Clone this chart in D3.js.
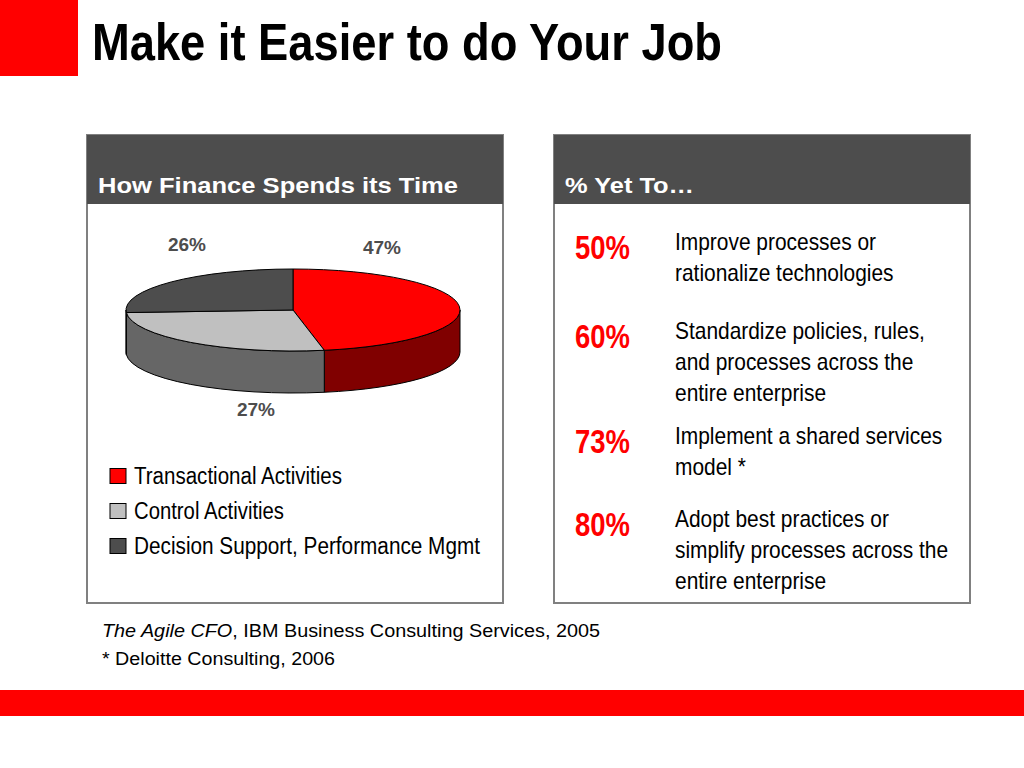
<!DOCTYPE html>
<html>
<head>
<meta charset="utf-8">
<script src="https://cdn.jsdelivr.net/npm/d3@7"></script>
<style>
  body { margin: 0; background: #fff; }
  svg { display: block; }
</style>
</head>
<body>
<svg id="chart" width="1024" height="768"></svg>
<script>
// pie data
var categories = ["Transactional Activities", "Control Activities", "Decision Support, Performance Mgmt"];
var shares = [47, 27, 26];
var sliceColors = ["#ff0000", "#c0c0c0", "#4d4d4d"];
var sideColors = ["#800000", "#666666", "#666666"];

// right panel data
var yetPct = [50, 60, 73, 80];
var yetText = [
  ["Improve processes or", "rationalize technologies"],
  ["Standardize policies, rules,", "and processes across the", "entire enterprise"],
  ["Implement a shared services", "model *"],
  ["Adopt best practices or", "simplify processes across the", "entire enterprise"]
];

var narrow = "'Liberation Sans Narrow', 'Arial Narrow', 'Liberation Sans', Arial, sans-serif";
var sans = "'Liberation Sans', Arial, sans-serif";

var svg = d3.select("#chart");

// top red block + title
svg.append("rect").attr("x", 0).attr("y", 0).attr("width", 78).attr("height", 76).attr("fill", "#ff0000");
svg.append("text").attr("x", 92).attr("y", 60)
  .attr("font-family", narrow).attr("font-weight", "bold").attr("font-size", 52)
  .attr("textLength", 630).attr("lengthAdjust", "spacingAndGlyphs")
  .text("Make it Easier to do Your Job");

// bottom red bar
svg.append("rect").attr("x", 0).attr("y", 690).attr("width", 1024).attr("height", 26).attr("fill", "#ff0000");

// panels
function panel(x, title, tLen) {
  var g = svg.append("g");
  g.append("rect").attr("x", x).attr("y", 135).attr("width", 416).attr("height", 468)
    .attr("fill", "#fff").attr("stroke", "#808080").attr("stroke-width", 2);
  g.append("rect").attr("x", x).attr("y", 135).attr("width", 416).attr("height", 69).attr("fill", "#4d4d4d");
  g.append("text").attr("x", x + 11).attr("y", 193)
    .attr("font-family", sans).attr("font-weight", "bold").attr("font-size", 22.5).attr("fill", "#fff")
    .attr("textLength", tLen).attr("lengthAdjust", "spacingAndGlyphs")
    .text(title);
}
panel(87, "How Finance Spends its Time", 360);
panel(554, "% Yet To\u2026", 129);

// 3D pie
var cx = 293, cy = 310, rx = 167, ry = 41, depth = 42;
var pie = d3.pie().sort(null).value(function (d) { return d; });
var arcs = pie(shares);

function pt(a, dy) { return [cx + rx * Math.sin(a), cy - ry * Math.cos(a) + (dy || 0)]; }

var pieG = svg.append("g");
// sides (front half only: angles PI/2 .. 3PI/2)
arcs.forEach(function (d, i) {
  var a0 = Math.max(d.startAngle, Math.PI / 2), a1 = Math.min(d.endAngle, 3 * Math.PI / 2);
  if (a1 <= a0) return;
  var p0 = pt(a0), p1 = pt(a1), p1b = pt(a1, depth), p0b = pt(a0, depth);
  var path = "M" + p0 + " A" + rx + "," + ry + " 0 0 1 " + p1 +
    " L" + p1b + " A" + rx + "," + ry + " 0 0 0 " + p0b + " Z";
  pieG.append("path").attr("d", path).attr("fill", sideColors[i])
    .attr("stroke", "#000").attr("stroke-width", 1).attr("stroke-linejoin", "round");
});
// top
var arc = d3.arc().innerRadius(0).outerRadius(rx);
pieG.append("g").attr("transform", "translate(" + cx + "," + cy + ") scale(1," + (ry / rx) + ")")
  .selectAll("path").data(arcs).enter().append("path")
  .attr("d", arc)
  .attr("fill", function (d, i) { return sliceColors[i]; })
  .attr("stroke", "#000").attr("stroke-width", 1).attr("vector-effect", "non-scaling-stroke");

// labels placed above / below the pie, like the original
var labelAt = [[382, 254], [256, 416], [187, 251]];
pieG.selectAll("text.lbl").data(arcs).enter().append("text")
  .attr("class", "lbl")
  .attr("x", function (d, i) { return labelAt[i][0]; })
  .attr("y", function (d, i) { return labelAt[i][1]; })
  .attr("text-anchor", "middle")
  .attr("font-family", sans).attr("font-weight", "bold").attr("font-size", 19).attr("fill", "#4d4d4d")
  .text(function (d) { return d.data + "%"; });

// legend
var leg = svg.append("g");
var legY = d3.scalePoint().domain(categories).range([476, 546]);
categories.forEach(function (c, i) {
  leg.append("rect").attr("x", 110).attr("y", legY(c) - 7.5).attr("width", 16).attr("height", 15)
    .attr("fill", sliceColors[i]).attr("stroke", "#000").attr("stroke-width", 1);
  leg.append("text").attr("x", 134).attr("y", legY(c) + 8)
    .attr("font-family", narrow).attr("font-size", 23).attr("fill", "#000")
    .attr("textLength", [208, 150, 346][i]).attr("lengthAdjust", "spacingAndGlyphs")
    .text(c);
});

// right panel rows (narrow look: squeeze horizontally)
var rowY = [250, 339, 444, 527];
var rows = svg.append("g");
yetPct.forEach(function (p, i) {
  rows.append("text").attr("x", 575).attr("y", rowY[i] + 8.5)
    .attr("font-family", narrow).attr("font-weight", "bold").attr("font-size", 34).attr("fill", "#ff0000")
    .attr("textLength", 55).attr("lengthAdjust", "spacingAndGlyphs")
    .text(p + "%");
  yetText[i].forEach(function (line, j) {
    rows.append("g").attr("transform", "translate(675," + (rowY[i] + j * 30.8) + ") scale(0.91,1)")
      .append("text").attr("x", 0).attr("y", 0)
      .attr("font-family", narrow).attr("font-size", 23).attr("fill", "#000")
      .text(line);
  });
});

// footnotes
var fn = svg.append("text").attr("x", 102).attr("y", 637)
  .attr("font-family", sans).attr("font-size", 18).attr("fill", "#000")
  .attr("textLength", 498).attr("lengthAdjust", "spacingAndGlyphs");
fn.append("tspan").attr("font-style", "italic").text("The Agile CFO");
fn.append("tspan").text(", IBM Business Consulting Services, 2005");
svg.append("text").attr("x", 102).attr("y", 665)
  .attr("font-family", sans).attr("font-size", 18).attr("fill", "#000")
  .attr("textLength", 233).attr("lengthAdjust", "spacingAndGlyphs")
  .text("* Deloitte Consulting, 2006");
</script>
</body>
</html>
